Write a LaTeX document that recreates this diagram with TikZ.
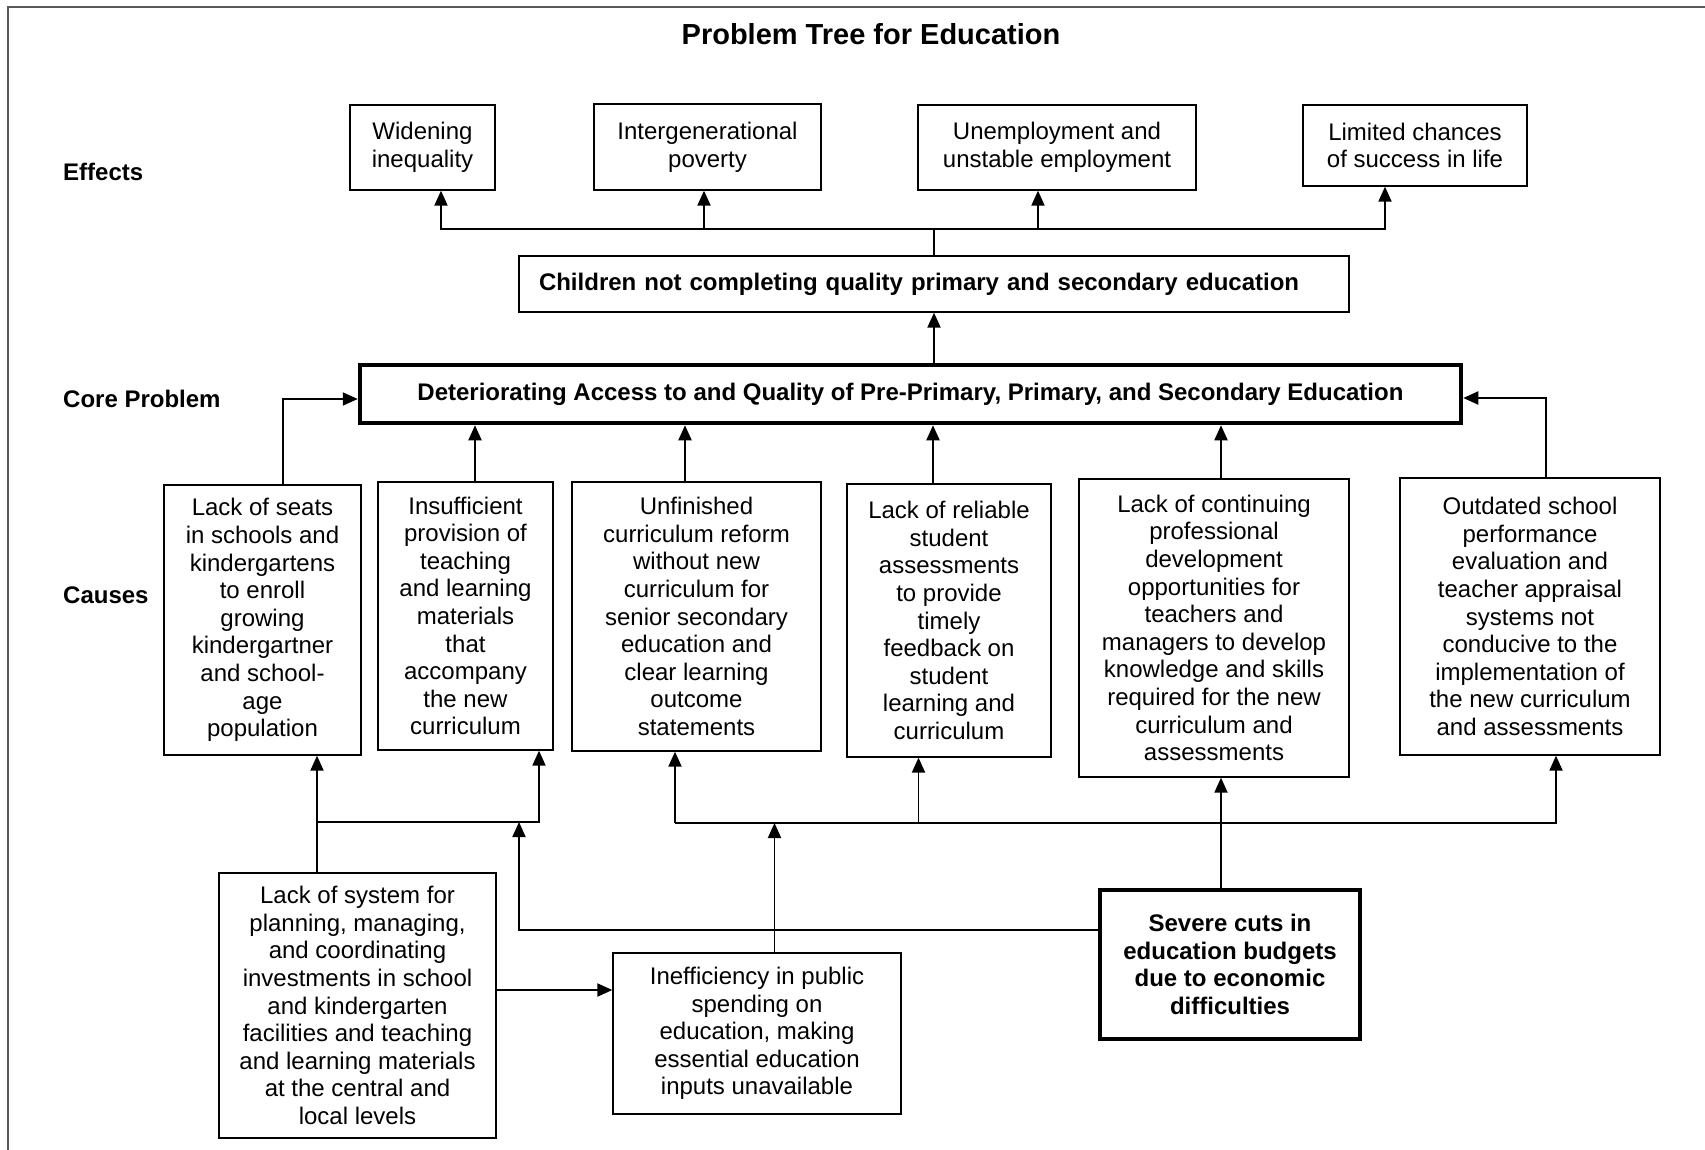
\documentclass[tikz,border=0pt]{standalone}
\usepackage{fontspec}
\setmainfont{Liberation Sans}
\usetikzlibrary{arrows.meta,calc}
\begin{document}
\begin{tikzpicture}[x=1pt,y=-1pt,
  txt/.style={font=\fontsize{24}{27.6}\selectfont},
  box/.style={draw=black,line width=1.3pt,txt,align=center,inner sep=0pt},
  thickbox/.style={box,line width=4.5pt},
  lab/.style={font=\bfseries\fontsize{24}{27.6}\selectfont,anchor=west,inner sep=0pt},
  conn/.style={line width=1.9pt},
  arr/.style={conn,-{Triangle[length=15pt,width=13pt]}},
  frame/.style={draw=black!65,line width=2.5pt}]
\useasboundingbox (0,0) rectangle (1705,1150);
\draw[frame] (8,1150) -- (8,7) -- (1705,7);

\node[font=\bfseries\fontsize{29}{34}\selectfont] (title) at (871,34) {Problem Tree for Education};
\node[lab] (leff) at (63,172) {Effects};
\node[lab] (lcore) at (63,399) {Core Problem};
\node[lab] (lcause) at (63,595) {Causes};

% effects
\node[box,minimum width=145,minimum height=85] (E1) at (422.5,147.5) {Widening\\inequality};
\node[box,minimum width=227,minimum height=86] (E2) at (707.5,147) {Intergenerational\\poverty};
\node[box,minimum width=278,minimum height=85] (E3) at (1057,147.5) {Unemployment and\\unstable employment};
\node[box,minimum width=224,minimum height=81] (E4) at (1415,145.5) {Limited chances\\of success in life};

\node[box,minimum width=830,minimum height=56,text width=790,inner xsep=20pt,align=left,font=\bfseries\fontsize{24}{27.6}\selectfont] (children) at (934,284) {Children not completing quality primary and secondary education};

\node[thickbox,minimum width=1101,minimum height=58,font=\bfseries\fontsize{24}{27.6}\selectfont] (core) at (910.5,394) {Deteriorating Access to and Quality of Pre-Primary, Primary, and Secondary Education};

% causes
\node[box,minimum width=197,minimum height=270] (C1) at (262.5,620) {Lack of seats\\in schools and\\kindergartens\\to enroll\\growing\\kindergartner\\and school-\\age\\population};
\node[box,minimum width=175,minimum height=268] (C2) at (465.5,616) {Insufficient\\provision of\\teaching\\and learning\\materials\\that\\accompany\\the new\\curriculum};
\node[box,minimum width=249,minimum height=269] (C3) at (696.5,616.5) {Unfinished\\curriculum reform\\without new\\curriculum for\\senior secondary\\education and\\clear learning\\outcome\\statements};
\node[box,minimum width=204,minimum height=273] (C4) at (949,620.5) {Lack of reliable\\student\\assessments\\to provide\\timely\\feedback on\\student\\learning and\\curriculum};
\node[box,minimum width=270,minimum height=298] (C5) at (1214,628) {Lack of continuing\\professional\\development\\opportunities for\\teachers and\\managers to develop\\knowledge and skills\\required for the new\\curriculum and\\assessments};
\node[box,minimum width=260,minimum height=277] (C6) at (1530,616.5) {Outdated school\\performance\\evaluation and\\teacher appraisal\\systems not\\conducive to the\\implementation of\\the new curriculum\\and assessments};

% root causes
\node[box,minimum width=277,minimum height=265] (S) at (357.5,1005.5) {Lack of system for\\planning, managing,\\and coordinating\\investments in school\\and kindergarten\\facilities and teaching\\and learning materials\\at the central and\\local levels};
\node[box,minimum width=288,minimum height=161] (I) at (757,1033.5) {Inefficiency in public\\spending on\\education, making\\essential education\\inputs unavailable};
\node[thickbox,minimum width=260,minimum height=149,font=\bfseries\fontsize{24}{27.8}\selectfont] (B) at (1230,964.5) {Severe cuts in\\education budgets\\due to economic\\difficulties};

% effects connectors
\coordinate (eb) at (934,229);
\draw[conn] (children.north) -- (eb);
\draw[arr] (eb) -| ($(E1.south)+(18.5,0)$);
\draw[arr] (eb) -| ($(E2.south)+(-3.5,0)$);
\draw[arr] (eb) -| ($(E3.south)+(-19,0)$);
\draw[arr] (eb) -| ($(E4.south)+(-30,0)$);
\draw[arr] (core.north -| children.south) -- (children.south);

% causes to core
\coordinate (c1t) at ($(C1.north)+(20.5,0)$);
\coordinate (c6t) at ($(C6.north)+(16,0)$);
\coordinate (corel) at ($(core.west)+(0,5)$);
\coordinate (corer) at ($(core.east)+(0,4)$);
\draw[arr] (c1t) |- (corel);
\draw[arr] (c6t) |- (corer);
\coordinate (c2t) at ($(C2.north)+(9.5,0)$);
\coordinate (c3t) at ($(C3.north)+(-11.5,0)$);
\coordinate (c4t) at ($(C4.north)+(-16,0)$);
\coordinate (c5t) at ($(C5.north)+(7,0)$);
\draw[arr] (c2t) -- (c2t |- core.south);
\draw[arr] (c3t) -- (c3t |- core.south);
\draw[arr] (c4t) -- (c4t |- core.south);
\draw[arr] (c5t) -- (c5t |- core.south);

% lower connectors
\coordinate (st) at ($(S.north)+(-40.5,0)$);
\draw[arr] (st) -- (st |- C1.south);
\coordinate (lbus) at (317,822);
\draw[arr] (lbus) -| ($(C2.south)+(73.5,0)$);
\coordinate (se) at ($(S.east)+(0,-15.5)$);
\draw[arr] (se) -- (se -| I.west);
\coordinate (rbL) at (675,823);
\coordinate (rbR) at (1556,823);
\draw[arr] (rbL) -- (rbL |- C3.south);
\draw[arr] (rbL) -| (rbR |- C6.south);
\coordinate (c4b) at (918.5,823);
\draw[arr] (c4b) -- (c4b |- C4.south);
\coordinate (it) at ($(I.north)+(17.5,0)$);
\draw[arr] (it) -- (it |- rbL);
\coordinate (bt) at ($(B.north)+(-9,0)$);
\draw[arr] (bt) -- (bt |- C5.south);
\coordinate (bl) at ($(B.west)+(0,-34.5)$);
\coordinate (lbj) at (519,822);
\draw[arr] (bl) -| (lbj);
\end{tikzpicture}
\end{document}
